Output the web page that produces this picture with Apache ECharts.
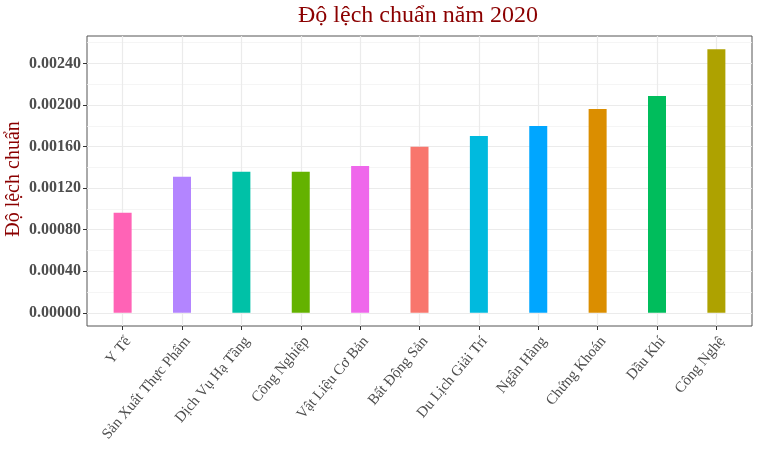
<!DOCTYPE html>
<html>
<head>
<meta charset="utf-8">
<script src="https://cdn.jsdelivr.net/npm/echarts@6/dist/echarts.min.js"></script>
<style>html,body{margin:0;padding:0;background:#fff}#c{width:760px;height:470px}</style>
</head>
<body>
<div id="c"></div>
<script>
const categories = ["Y Tế","Sản Xuất Thực Phẩm","Dịch Vụ Hạ Tầng","Công Nghiệp","Vật Liệu Cơ Bản","Bất Động Sản","Du Lịch Giải Trí","Ngân Hàng","Chứng Khoán","Dầu Khí","Công Nghệ"];
const values = [0.000963,0.001309,0.001357,0.001357,0.001414,0.001597,0.001702,0.001798,0.001961,0.002086,0.002537];
const colors = ["#FF63B6","#B385FF","#00C1A7","#64B200","#EF67EB","#F8766D","#00BADE","#00A6FF","#DB8E00","#00BD5C","#AEA200"];
const yTicks = [0,0.0004,0.0008,0.0012,0.0016,0.002,0.0024];
const yMinor = [0.0002,0.0006,0.001,0.0014,0.0018,0.0022,0.0026];
const titleText = "Độ lệch chuẩn năm 2020";
const yTitle = "Độ lệch chuẩn";

const font = "'Liberation Serif','DejaVu Serif',serif";
const maxV = Math.max(...values);
const xPos = categories.map((c,i)=>i);

const chart = echarts.init(document.getElementById('c'), null, {renderer:'canvas'});
chart.setOption({
  animation:false,
  backgroundColor:'#ffffff',
  title:{
    text:titleText, left:413, textAlign:'center', top:-1,
    textStyle:{fontFamily:font, fontSize:24, fontWeight:'normal', color:'#8B0000'}
  },
  graphic:[{
    type:'text', x:14, y:179, rotation:Math.PI/2,
    style:{text:yTitle, fontFamily:font, fontSize:20, fill:'#8B0000', align:'center', verticalAlign:'middle'}
  }],
  grid:{left:87, right:8, top:36, bottom:144, containLabel:false, outerBoundsMode:'none',
    show:true, borderColor:'#555', borderWidth:1, backgroundColor:'#fff'},
  xAxis:{
    type:'value', min:-0.6, max:categories.length-1+0.6,
    axisLine:{show:false, onZero:false},
    axisTick:{show:true, customValues:xPos, length:4, lineStyle:{color:'#333'}},
    axisLabel:{customValues:xPos, rotate:50, margin:8, verticalAlign:'top', fontFamily:font, fontSize:15, color:'#4D4D4D',
      formatter:(v)=>categories[Math.round(v)]},
    splitLine:{show:true, lineStyle:{color:'#EBEBEB', width:1.2}}
  },
  yAxis:[{
    type:'value', min:-0.05*maxV, max:maxV*1.05,
    axisLine:{show:false, onZero:false},
    axisTick:{show:true, customValues:yTicks, length:4, lineStyle:{color:'#333'}},
    axisLabel:{customValues:yTicks, margin:6, fontFamily:font, fontSize:16, fontWeight:'bold', color:'#4D4D4D',
      formatter:(v)=>v.toFixed(5)},
    splitLine:{show:true, lineStyle:{color:'#EBEBEB', width:1.2}}
  },{
    type:'value', min:-0.05*maxV, max:maxV*1.05, position:'left',
    axisLine:{show:false, onZero:false},
    axisTick:{show:false, customValues:yMinor},
    axisLabel:{show:false, customValues:yMinor},
    splitLine:{show:true, lineStyle:{color:'#F2F2F2', width:0.8}}
  }],
  series:[{
    type:'bar', yAxisIndex:0, barWidth:18,
    data:values.map((v,i)=>({value:[xPos[i], v], itemStyle:{color:colors[i]}}))
  }]
});
</script>
</body>
</html>
